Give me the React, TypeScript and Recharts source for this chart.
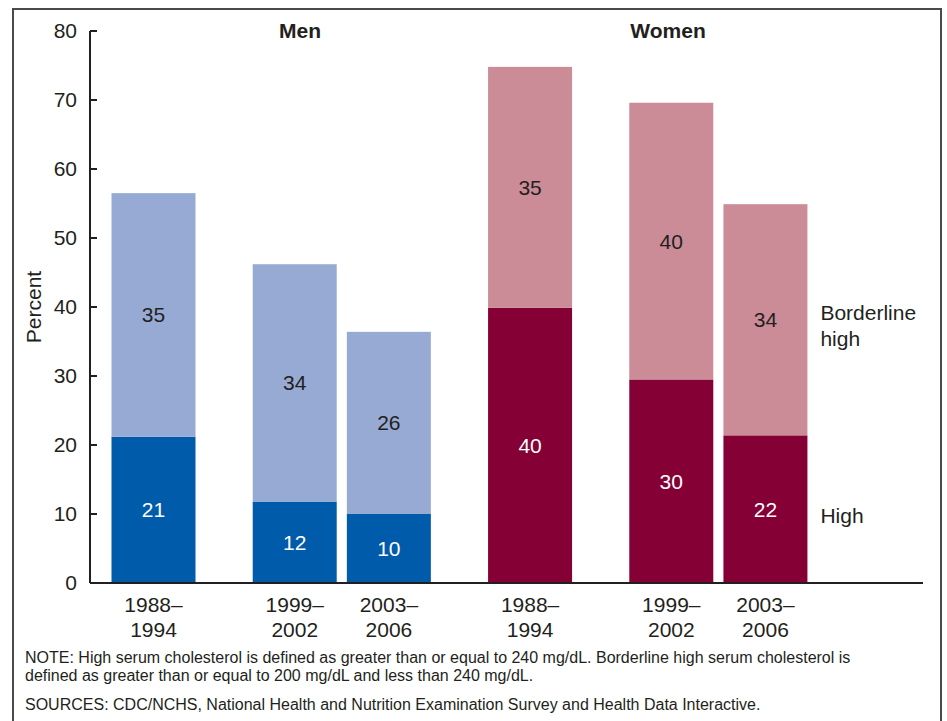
import { BarChart, Bar, XAxis, YAxis, LabelList } from "recharts";

// periods and groups, in the order the bars are drawn
const periods = ["1988–1994", "1999–2002", "2003–2006"];
const groups = ["Men", "Women"];
const seriesNames = ["High", "Borderline high"];

// percent with high (>=240) and borderline high (200-239) serum cholesterol; men then women
const highValues = [21.2, 11.8, 10.0, 39.9, 29.5, 21.4];
const borderlineValues = [35.3, 34.4, 26.4, 34.9, 40.1, 33.5];

// rounded values printed on the bars
const highLabels = [21, 12, 10, 40, 30, 22];
const borderlineLabels = [35, 34, 26, 35, 40, 34];

const yTicks = [0, 10, 20, 30, 40, 50, 60, 70, 80];

// layout: bars sit on evenly spaced slots, some left empty as gaps
const SLOTS = 14;
const BAR_SLOT = [0, 3, 5, 8, 11, 13];
const BAR_WIDTH = 84;

const FONT = "'Liberation Sans', Arial, Helvetica, sans-serif";
const INK = "#231f20";
const FS = 21;

const COLORS: Record<string, { high: string; borderline: string }> = {
  Men: { high: "#005baa", borderline: "#97aad4" },
  Women: { high: "#850035", borderline: "#cb8c97" },
};

const bars = highValues.map((h, i) => ({
  period: periods[i % periods.length],
  group: groups[Math.floor(i / periods.length)],
  high: h,
  borderline: borderlineValues[i],
  highLabel: highLabels[i],
  borderlineLabel: borderlineLabels[i],
  sideHigh: i === highValues.length - 1 ? seriesNames[0] : undefined,
  sideBorderline: i === highValues.length - 1 ? seriesNames[1] : undefined,
}));

const rows: any[] = Array.from({ length: SLOTS }, () => ({ period: "", group: "", high: null, borderline: null }));
BAR_SLOT.forEach((slot, i) => {
  rows[slot] = bars[i];
});

const makeShape = (key: "high" | "borderline") => (props: any) => {
  const { x, y, width, height, payload } = props;
  if (!height || isNaN(height) || !payload || !payload.group) return null;
  return (
    <rect
      x={x + width / 2 - BAR_WIDTH / 2}
      y={y}
      width={BAR_WIDTH}
      height={height}
      fill={COLORS[payload.group][key]}
    />
  );
};

const box = (props: any) => {
  const vb = props.viewBox && props.viewBox.width !== undefined ? props.viewBox : props;
  return { x: Number(vb.x), y: Number(vb.y), width: Number(vb.width), height: Number(vb.height) };
};

const valueLabel = (color: string) => (props: any) => {
  if (props.value === undefined || props.value === null || props.value === "") return null;
  const { x, y, width, height } = box(props);
  return (
    <text
      x={x + width / 2}
      y={y + height / 2}
      textAnchor="middle"
      dominantBaseline="central"
      fill={color}
      fontSize={FS}
      fontFamily={FONT}
    >
      {props.value}
    </text>
  );
};

const sideLabel = (dy: number) => (props: any) => {
  if (!props.value) return null;
  const { x, y, width, height } = box(props);
  const words = String(props.value).split(" ");
  const lines = words.length > 1 ? [words[0], words.slice(1).join(" ")] : words;
  const tx = x + width / 2 + BAR_WIDTH / 2 + 13;
  return (
    <text x={tx} y={y + height / 2 + dy} fill={INK} fontSize={FS} fontFamily={FONT} dominantBaseline="central">
      {lines.map((l, i) => (
        <tspan key={i} x={tx} dy={i === 0 ? 0 : 26}>
          {l}
        </tspan>
      ))}
    </text>
  );
};

const PeriodTick = (props: any) => {
  const { x, y, payload } = props;
  if (!payload || !payload.value) return null;
  const [a, b] = String(payload.value).split("–");
  return (
    <text x={x} y={y} textAnchor="middle" fill={INK} fontSize={FS} fontFamily={FONT}>
      <tspan x={x} dy={29}>{a}–</tspan>
      <tspan x={x} dy={25}>{b}</tspan>
    </text>
  );
};

const PercentLabel = (props: any) => {
  const vb = props.viewBox || {};
  const cx = 33;
  const cy = vb.y + vb.height / 2;
  return (
    <text
      x={cx}
      y={cy}
      transform={`rotate(-90 ${cx} ${cy})`}
      textAnchor="middle"
      dominantBaseline="central"
      fill={INK}
      fontSize={FS}
      fontFamily={FONT}
    >
      Percent
    </text>
  );
};

export default function App() {
  return (
    <div style={{ position: "absolute", left: 0, top: 0, width: 947, height: 721, overflow: "hidden", background: "#fff", fontFamily: FONT, color: INK }}>
      <div
        style={{
          position: "absolute",
          left: 12,
          top: 8,
          width: 926,
          height: 720,
          border: "2px solid #4a4a4a",
          borderBottom: "none",
        }}
      />
      <div style={{ position: "absolute", left: 0, top: 0 }}>
        <BarChart
          width={947}
          height={650}
          data={rows}
          margin={{ top: 31, right: 24, left: 30, bottom: 7 }}
          barCategoryGap={0}
        >
          <XAxis
            dataKey="period"
            interval={0}
            padding={{ left: 40, right: 134 }}
            height={60}
            tickLine={false}
            tickSize={0}
            tickMargin={0}
            axisLine={{ stroke: INK, strokeWidth: 2 }}
            tick={<PeriodTick />}
          />
          <YAxis
            width={60}
            domain={[0, 80]}
            ticks={yTicks}
            interval={0}
            tickSize={-7}
            tickMargin={20}
            axisLine={{ stroke: INK, strokeWidth: 2 }}
            tickLine={{ stroke: INK, strokeWidth: 2 }}
            tick={{ fill: INK, fontSize: FS, fontFamily: FONT }}
            label={<PercentLabel />}
          />
          <Bar dataKey="high" stackId="a" isAnimationActive={false} shape={makeShape("high")}>
            <LabelList dataKey="highLabel" content={valueLabel("#ffffff")} />
            <LabelList dataKey="sideHigh" content={sideLabel(6)} />
          </Bar>
          <Bar dataKey="borderline" stackId="a" isAnimationActive={false} shape={makeShape("borderline")}>
            <LabelList dataKey="borderlineLabel" content={valueLabel(INK)} />
            <LabelList dataKey="sideBorderline" content={sideLabel(-8)} />
          </Bar>
        </BarChart>
      </div>
      <div style={{ position: "absolute", left: 300, top: 31, transform: "translate(-50%, -50%)", fontWeight: "bold", fontSize: FS }}>
        {groups[0]}
      </div>
      <div style={{ position: "absolute", left: 668, top: 31, transform: "translate(-50%, -50%)", fontWeight: "bold", fontSize: FS }}>
        {groups[1]}
      </div>
      <div style={{ position: "absolute", left: 25, top: 649, fontSize: 16, lineHeight: "17.5px", whiteSpace: "nowrap" }}>
        NOTE: High serum cholesterol is defined as greater than or equal to 240 mg/dL. Borderline high serum cholesterol is
        <br />
        defined as greater than or equal to 200 mg/dL and less than 240 mg/dL.
        <div style={{ marginTop: 11.5 }}>
          SOURCES: CDC/NCHS, National Health and Nutrition Examination Survey and Health Data Interactive.
        </div>
      </div>
    </div>
  );
}
